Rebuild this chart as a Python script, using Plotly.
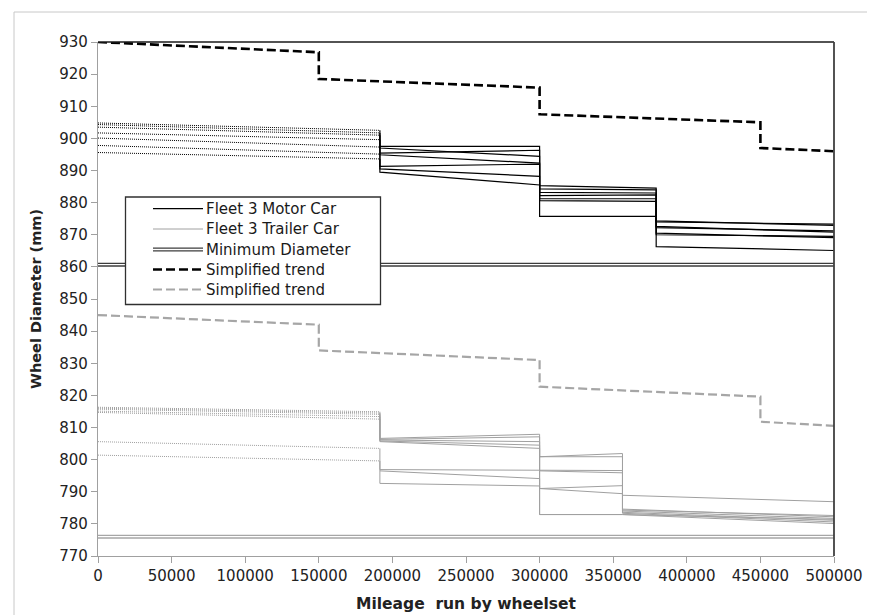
import plotly.graph_objects as go

# ---------------- data ----------------
MOTOR_BREAKS = [0, 191500, 300000, 379200, 500000]
MOTOR_DOT_START = [904.8, 904.3, 903.5, 901.7, 900.1, 897.8, 895.6]
MOTOR_DOT_END = [902.5, 901.7, 901.0, 899.6, 897.3, 895.1, 893.6]
# per wheelset: start/end of each measured period after the pre-history
MOTOR_P2 = [(897.5, 897.5), (897.0, 894.4), (895.4, 896.3), (894.9, 892.3),
            (891.3, 892.0), (890.5, 888.2), (889.5, 885.5)]
MOTOR_P3 = [(885.3, 884.5), (884.3, 884.0), (883.2, 883.0), (882.2, 882.4),
            (881.2, 881.2), (880.6, 880.4), (875.7, 875.7)]
MOTOR_P4 = [(874.3, 872.9), (874.0, 873.3), (872.6, 870.8), (872.2, 871.2),
            (870.5, 869.1), (870.0, 869.5), (866.3, 865.1)]

TRAILER_BREAKS = [0, 191500, 300000, 356300, 500000]
TRAILER_DOT_START = [816.3, 816.0, 815.7, 815.1, 814.7, 805.6, None, 801.4]
TRAILER_DOT_END = [814.9, 814.5, 814.1, 813.4, 812.6, 803.5, None, 799.6]
TRAILER_P2 = [(806.6, 807.9), (806.3, 807.1), (806.1, 805.6), (805.8, 804.5),
              (805.6, 803.5), (796.9, 796.7), (796.5, 794.1), (792.6, 791.8)]
TRAILER_P3 = [(800.9, 801.9), (800.9, 800.9), (796.7, 796.6), (796.5, 795.9),
              (791.0, 791.9), (782.9, 782.9), (782.9, 782.9), (791.0, 789.4)]
TRAILER_P4 = [(788.9, 786.9), (784.6, 782.2), (784.3, 782.6), (784.0, 781.7),
              (783.6, 781.1), (782.9, 780.1), (782.9, 781.4), (783.3, 780.6)]

TREND_X = [0, 150000, 150000, 300000, 300000, 450000, 450000, 500000]
MOTOR_TREND = [930, 926.8, 918.5, 915.8, 907.5, 905.0, 897.0, 896.0]
TRAILER_TREND = [845, 842, 834, 831, 822.7, 819.6, 811.8, 810.5]

MOTOR_MIN = 860.7
TRAILER_MIN = 776.0
X_RANGE = [0, 500000]

LEGEND_LABELS = ["Fleet 3 Motor Car", "Fleet 3 Trailer Car", "Minimum Diameter",
                 "Simplified trend", "Simplified trend"]

# ---------------- styles ----------------
MOTOR_C = "#000000"
TRAILER_C = "#a0a0a0"
MIN_MOTOR_C = "#3c3c3c"
MIN_TRAILER_C = "#a6a6a6"
FONT = "DejaVu Sans"

fig = go.Figure()


def add_group(breaks, dstart, dend, p2, p3, p4, color, width):
    for i in range(len(p2)):
        if dstart[i] is not None:
            fig.add_trace(go.Scatter(x=[breaks[0], breaks[1]], y=[dstart[i], dend[i]],
                                     mode="lines", showlegend=False, hoverinfo="skip",
                                     line=dict(color=color, width=1, dash="1px,1px")))
        xs, ys = [], []
        if dend[i] is not None:
            xs.append(breaks[1]); ys.append(dend[i])
        xs += [breaks[1], breaks[2], breaks[2], breaks[3], breaks[3], breaks[4]]
        ys += [p2[i][0], p2[i][1], p3[i][0], p3[i][1], p4[i][0], p4[i][1]]
        fig.add_trace(go.Scatter(x=xs, y=ys, mode="lines", showlegend=False,
                                 line=dict(color=color, width=width)))


add_group(TRAILER_BREAKS, TRAILER_DOT_START, TRAILER_DOT_END,
          TRAILER_P2, TRAILER_P3, TRAILER_P4, TRAILER_C, 1)
add_group(MOTOR_BREAKS, MOTOR_DOT_START, MOTOR_DOT_END,
          MOTOR_P2, MOTOR_P3, MOTOR_P4, MOTOR_C, 1.2)

# minimum diameters (double lines)
for val, col in [(MOTOR_MIN, MIN_MOTOR_C), (TRAILER_MIN, MIN_TRAILER_C)]:
    fig.add_trace(go.Scatter(x=X_RANGE, y=[val, val], mode="lines", showlegend=False,
                             line=dict(color=col, width=4)))
    fig.add_trace(go.Scatter(x=X_RANGE, y=[val, val], mode="lines", showlegend=False,
                             line=dict(color="white", width=1.3)))

# simplified trends
fig.add_trace(go.Scatter(x=TREND_X, y=MOTOR_TREND, mode="lines", showlegend=False,
                         line=dict(color="#000000", width=2.6, dash="9px,4px")))
fig.add_trace(go.Scatter(x=TREND_X, y=TRAILER_TREND, mode="lines", showlegend=False,
                         line=dict(color="#a6a6a6", width=2.2, dash="9px,4px")))

# ---------------- layout helpers (pixel -> paper) ----------------
L, R, T, B = 90, 49, 34, 67
W, H = 875, 615
PW, PH = W - L - R, H - T - B


def pxx(px):
    return (px - L) / PW


def pxy(py):
    return 1 - (py - T) / PH


shapes = []
# chart-area border
shapes.append(dict(type="rect", xref="paper", yref="paper", x0=pxx(6), x1=pxx(869),
                   y0=pxy(611), y1=pxy(4), line=dict(color="#c8c8c8", width=1), layer="below"))
# plot area top / right border
shapes.append(dict(type="line", xref="paper", yref="paper", x0=0, x1=1, y0=1, y1=1,
                   line=dict(color="#1a1a1a", width=1.5)))
shapes.append(dict(type="line", xref="paper", yref="paper", x0=1, x1=1, y0=0, y1=1,
                   line=dict(color="#404040", width=1.8)))

# legend box
shapes.append(dict(type="rect", xref="paper", yref="paper", x0=pxx(117.5), x1=pxx(372.5),
                   y0=pxy(296.5), y1=pxy(189), line=dict(color="#303030", width=1.3),
                   fillcolor="white", layer="above"))
rows = [200.7, 221, 241.5, 261.5, 281.5]
sx0, sx1 = pxx(145), pxx(195)
shapes.append(dict(type="line", xref="paper", yref="paper", x0=sx0, x1=sx1,
                   y0=pxy(rows[0]), y1=pxy(rows[0]), line=dict(color=MOTOR_C, width=1.2)))
shapes.append(dict(type="line", xref="paper", yref="paper", x0=sx0, x1=sx1,
                   y0=pxy(rows[1]), y1=pxy(rows[1]), line=dict(color=TRAILER_C, width=1)))
shapes.append(dict(type="line", xref="paper", yref="paper", x0=sx0, x1=sx1,
                   y0=pxy(rows[2]), y1=pxy(rows[2]), line=dict(color=MIN_MOTOR_C, width=4)))
shapes.append(dict(type="line", xref="paper", yref="paper", x0=sx0, x1=sx1,
                   y0=pxy(rows[2]), y1=pxy(rows[2]), line=dict(color="white", width=1.3)))
shapes.append(dict(type="line", xref="paper", yref="paper", x0=sx0, x1=sx1,
                   y0=pxy(rows[3]), y1=pxy(rows[3]),
                   line=dict(color="#000000", width=2.6, dash="9px,4px")))
shapes.append(dict(type="line", xref="paper", yref="paper", x0=sx0, x1=sx1,
                   y0=pxy(rows[4]), y1=pxy(rows[4]),
                   line=dict(color="#a6a6a6", width=2.2, dash="9px,4px")))

annotations = []
for r, lab in zip(rows, LEGEND_LABELS):
    annotations.append(dict(xref="paper", yref="paper", x=pxx(196), y=pxy(r), text=lab,
                            showarrow=False, xanchor="left", yanchor="middle",
                            font=dict(family=FONT, size=15, color="#1a1a1a")))

fig.update_layout(
    width=W, height=H,
    margin=dict(l=L, r=R, t=T, b=B),
    paper_bgcolor="white", plot_bgcolor="white",
    showlegend=False,
    shapes=shapes, annotations=annotations,
    font=dict(family=FONT, size=15, color="#222222"),
)
fig.update_xaxes(range=X_RANGE, dtick=50000, tick0=0, tickformat="d",
                 showgrid=False, zeroline=False, showline=True, linecolor="#a0a0a0",
                 linewidth=1.3, ticks="outside", ticklen=6, tickcolor="#a0a0a0",
                 tickfont=dict(family=FONT, size=15, color="#222222"),
                 title=dict(text="<b>Mileage  run by wheelset</b>", standoff=13,
                            font=dict(family=FONT, size=15.5, color="#222222")))
fig.update_yaxes(range=[770, 930], dtick=10, tick0=770,
                 showgrid=False, zeroline=False, showline=True, linecolor="#a0a0a0",
                 linewidth=1.3, ticks="outside", ticklen=6, tickcolor="#a0a0a0",
                 tickfont=dict(family=FONT, size=15, color="#222222"),
                 title=dict(text="<b>Wheel Diameter (mm)</b>", standoff=14,
                            font=dict(family=FONT, size=14.5, color="#222222")))

fig.write_html("out.html")
